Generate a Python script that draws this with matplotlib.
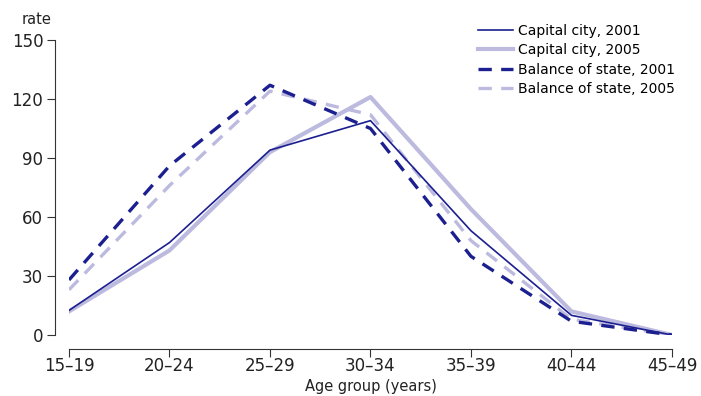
import matplotlib.pyplot as plt

plt.rcParams['font.family'] = ['DejaVu Sans']

age_groups = ['15–19', '20–24', '25–29', '30–34', '35–39', '40–44', '45–49']
capital_2001 = [12.5, 47, 94, 109, 53, 10, 0]
capital_2005 = [12, 43, 93, 121, 64, 12, 0]
balance_2001 = [28, 86, 127, 105, 40, 7, 0]
balance_2005 = [23, 76, 124, 112, 48, 8, 0]

navy = '#1c1f8f'
lilac = '#bcbadf'

fig = plt.figure(figsize=(7.01, 3.96), dpi=100)
ax = fig.add_axes([0.0984, 0.154, 0.8602, 0.745])
x = range(len(age_groups))

ax.plot(x, capital_2001, color=navy, lw=1.2, label='Capital city, 2001', zorder=4)
ax.plot(x, capital_2005, color=lilac, lw=3, label='Capital city, 2005', zorder=2)
ax.plot(x, balance_2001, color=navy, lw=2.4, dashes=(4, 2.8), label='Balance of state, 2001', zorder=3)
ax.plot(x, balance_2005, color=lilac, lw=2.4, dashes=(4, 2.8), label='Balance of state, 2005', zorder=1)

ax.set_xlim(0, 6)
ax.set_ylim(0, 150)
ax.set_xticks(list(x))
ax.set_xticklabels(age_groups)
ax.set_yticks([0, 30, 60, 90, 120, 150])
for s in ['top', 'right']:
    ax.spines[s].set_visible(False)
ax.spines['left'].set_position(('outward', 10))
ax.spines['bottom'].set_position(('outward', 10))
ax.spines['left'].set_color('#333333')
ax.spines['bottom'].set_color('#333333')
ax.tick_params(labelsize=12, length=5.5, color='#333333', labelcolor='#222222', pad=3)
ax.tick_params(axis='x', pad=0.5)
ax.set_xlabel('Age group (years)', fontsize=10.5, color='#222222', labelpad=3)
fig.text(22 / 701, 1 - 20 / 396, 'rate', fontsize=10.5, color='#222222', va='center')

fig.legend(*ax.get_legend_handles_labels(), loc='upper left', bbox_to_anchor=(478 / 701, 1 - 24 / 396),
           frameon=False, fontsize=10, handlelength=2.5, handletextpad=0.4,
           labelspacing=0.38, borderpad=0, borderaxespad=0)

fig.savefig('out.png', dpi=100)
